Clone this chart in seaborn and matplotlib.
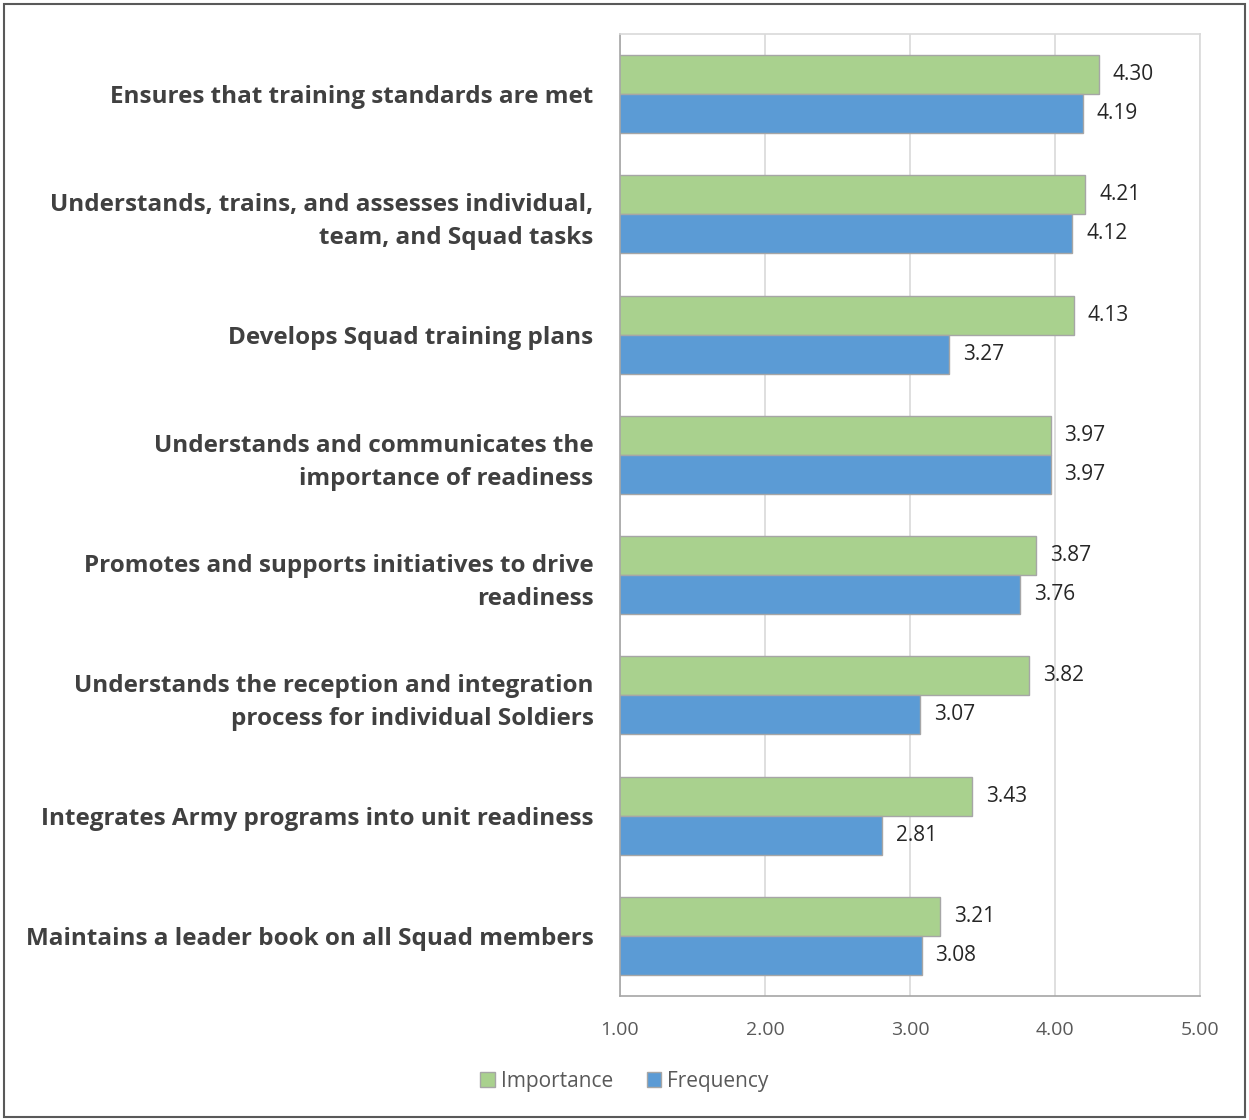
import matplotlib
matplotlib.use("Agg")
import matplotlib.pyplot as plt
import matplotlib.patches as mpatches
import seaborn as sns
import pandas as pd

categories = [
    "Ensures that training standards are met",
    "Understands, trains, and assesses individual,\nteam, and Squad tasks",
    "Develops Squad training plans",
    "Understands and communicates the\nimportance of readiness",
    "Promotes and supports initiatives to drive\nreadiness",
    "Understands the reception and integration\nprocess for individual Soldiers",
    "Integrates Army programs into unit readiness",
    "Maintains a leader book on all Squad members",
]
importance = [4.30, 4.21, 4.13, 3.97, 3.87, 3.82, 3.43, 3.21]
frequency = [4.19, 4.12, 3.27, 3.97, 3.76, 3.07, 2.81, 3.08]
series = ["Importance", "Frequency"]
colors = ["#a9d18e", "#5b9bd5"]
ticks = [1.0, 2.0, 3.0, 4.0, 5.0]

df = pd.DataFrame({
    "category": categories * 2,
    "series": [series[0]] * len(categories) + [series[1]] * len(categories),
    "value": importance + frequency,
})

sns.set_theme(style="white")
plt.rcParams["font.family"] = ["Open Sans", "DejaVu Sans"]

fig = plt.figure(figsize=(12.49, 11.2), dpi=100)
ax = fig.add_axes([620 / 1249, 1 - 996 / 1120, 580 / 1249, 962 / 1120])

sns.barplot(data=df, y="category", x="value", hue="series", hue_order=series,
            palette=colors, orient="h", width=0.65, ax=ax,
            edgecolor="#a6a6a6", linewidth=1.0, saturation=1, legend=True)

ax.set_xlim(1, 5)
ax.set_xticks(ticks)
ax.set_xticklabels([f"{t:.2f}" for t in ticks], color="#595959", fontsize=14)
ax.tick_params(axis="x", length=0, pad=18)
ax.tick_params(axis="y", length=0, pad=19)
for lbl in ax.get_yticklabels():
    lbl.set_fontweight("bold")
    lbl.set_fontsize(17.5)
    lbl.set_color("#404040")
    lbl.set_linespacing(1.5)
ax.set_xlabel("")
ax.set_ylabel("")
ax.xaxis.grid(True, color="#d9d9d9", linewidth=1.2)
ax.set_axisbelow(True)
for side, sp in ax.spines.items():
    sp.set_visible(True)
    sp.set_color("#d9d9d9")
    sp.set_linewidth(1.2)
ax.spines["left"].set_color("#a6a6a6")
ax.spines["bottom"].set_color("#a6a6a6")

for cont in ax.containers:
    ax.bar_label(cont, fmt="%.2f", padding=10, fontsize=15, color="#262626")

handles, labels = ax.get_legend_handles_labels()
ax.legend(handles, labels, loc="center", bbox_to_anchor=(0.5, 1 - 1081 / 1120),
          bbox_transform=fig.transFigure, ncol=2, frameon=False, fontsize=15,
          handlelength=0.7, handleheight=0.7, handletextpad=0.3, columnspacing=1.6,
          labelcolor="#595959")

fig.patches.append(mpatches.Rectangle((4 / 1249, 3 / 1120), 1241 / 1249, 1113 / 1120,
                                      transform=fig.transFigure, fill=False,
                                      edgecolor="#595959", linewidth=1.5))

fig.savefig("out.png", dpi=100)
